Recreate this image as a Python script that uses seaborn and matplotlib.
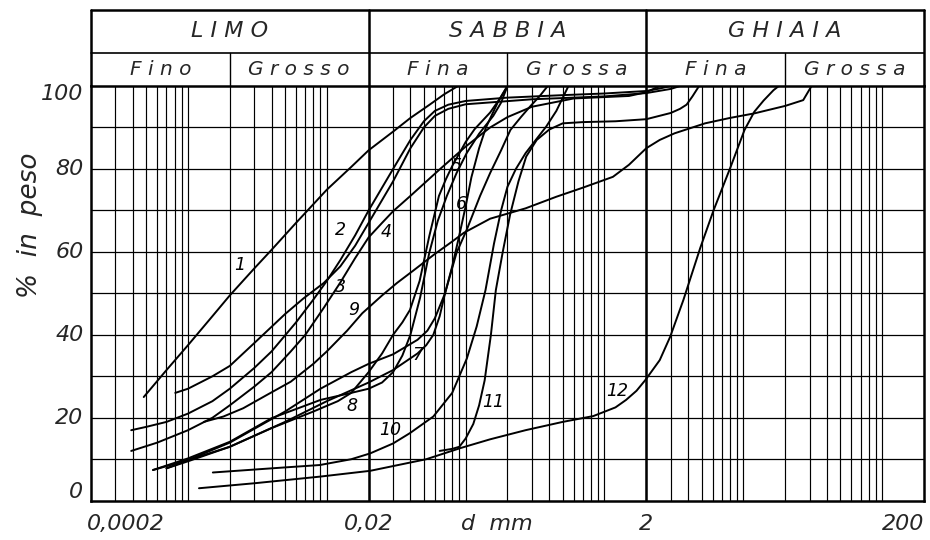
import numpy as np
import pandas as pd
import matplotlib
matplotlib.use("Agg")
import matplotlib.pyplot as plt
import seaborn as sns

# ---- data: grain size (mm) vs % passing for 12 samples ----
c1_d = [0.00048, 0.0007, 0.001, 0.0015, 0.002, 0.003, 0.004, 0.006, 0.008, 0.01, 0.015, 0.02, 0.03, 0.04, 0.055, 0.07, 0.088]
c1_p = [25, 31.5, 37.5, 44.5, 49.5, 56, 60.5, 67, 71.5, 75, 80.5, 84.5, 89, 92.3, 95.5, 98, 100]

c2_d = [0.00039, 0.0005, 0.0007, 0.001, 0.0015, 0.002, 0.003, 0.004, 0.006, 0.008, 0.01, 0.0125, 0.016, 0.02,
        0.025, 0.03, 0.04, 0.05, 0.06, 0.075, 0.1, 0.2, 0.5, 1, 2, 2.5, 3]
c2_p = [17, 17.8, 19, 21, 24, 27, 32, 36, 43, 48.5, 53, 58, 64, 70,
        75.5, 80, 87, 91.5, 94, 95.5, 96.4, 97.2, 97.8, 98.2, 98.8, 99.4, 100]

c3_d = [0.00081, 0.001, 0.0015, 0.002, 0.003, 0.005, 0.0068, 0.0095, 0.0125, 0.016, 0.02, 0.025, 0.03, 0.04,
        0.05, 0.06, 0.075, 0.1, 0.3, 1, 2, 3, 3.5]
c3_p = [26, 27, 30, 32.5, 38, 45, 48.8, 52.5, 56.5, 61.5, 67, 72.5, 77, 85,
        90, 92.8, 94.5, 95.6, 96.8, 97.5, 98.3, 99.3, 100]

c4_d = [0.00039, 0.0006, 0.001, 0.0015, 0.002, 0.003, 0.004, 0.0055, 0.007, 0.0095, 0.0125, 0.016, 0.02, 0.025,
        0.03, 0.04, 0.065, 0.1, 0.15, 0.2, 0.3, 0.6, 1.5, 2, 2.5]
c4_p = [12, 14, 17, 20, 23, 27.5, 31, 36, 40, 46.5, 52.6, 58.5, 63.5, 67,
        69.8, 73.5, 79.9, 85.4, 90, 92.5, 95, 97, 97.6, 98.5, 100]

c5_d = [0.00056, 0.001, 0.002, 0.004, 0.009, 0.015, 0.02, 0.025, 0.03, 0.035, 0.04, 0.047, 0.0547, 0.063,
        0.0732, 0.0862, 0.102, 0.125, 0.158, 0.18, 0.2]
c5_p = [7.4, 10.2, 14.2, 19.9, 24.3, 26, 27, 28.5, 31, 35, 40, 49, 59.8, 67.5,
        73.5, 79.1, 83.9, 88.5, 92.8, 96, 100]

c6_d = [0.0007, 0.001, 0.002, 0.005, 0.01, 0.02, 0.03, 0.045, 0.052, 0.0585, 0.065, 0.071, 0.086, 0.102,
        0.127, 0.15, 0.18, 0.21, 0.25, 0.29, 0.34, 0.39]
c6_p = [7.8, 9.5, 13, 19, 24, 28.5, 31.5, 35.5, 37.5, 40, 44.5, 50, 59.8, 65.4,
        73.5, 79, 84.5, 89.4, 92.5, 95, 97.5, 100]

c7_d = [0.0007, 0.001, 0.002, 0.005, 0.009, 0.015, 0.02, 0.03, 0.045, 0.053, 0.06, 0.071, 0.08, 0.09,
        0.1, 0.11, 0.125, 0.14, 0.17, 0.2]
c7_p = [7.8, 9.8, 14, 21.5, 27, 31, 33, 35.3, 38.8, 41, 44, 50, 56.5, 64,
        71, 78, 85, 90, 96, 100]

c8_d = [0.00056, 0.001, 0.002, 0.004, 0.008, 0.012, 0.015, 0.02, 0.025, 0.03, 0.035, 0.0397, 0.0466, 0.0547,
        0.0642, 0.072, 0.08, 0.1, 0.116, 0.15, 0.175, 0.2]
c8_p = [7.4, 9.8, 13, 17.5, 21.5, 24, 26, 31, 35.5, 40, 43, 46, 53, 63.8,
        73.5, 77.5, 80.7, 86.5, 89.6, 93.6, 96.8, 100]

c9_d = [0.0013, 0.0018, 0.0025, 0.0037, 0.0055, 0.008, 0.01, 0.014, 0.018, 0.025, 0.032, 0.042, 0.06, 0.08,
        0.097, 0.15, 0.27, 0.45, 0.7, 1.15, 1.5, 2.0, 2.5, 3.2, 5.3, 8, 12, 20, 27, 31]
c9_p = [19, 20.3, 22.3, 25.5, 28.7, 33, 36, 41, 45.2, 49.5, 52.5, 55.5, 59.5, 62.5,
        64.6, 68, 70.5, 73.3, 75.5, 78.1, 81, 85, 87, 88.6, 91, 92.3, 93.4, 95.2, 96.6, 100]

c10_d = [0.00151, 0.004, 0.0089, 0.015, 0.0205, 0.03, 0.0397, 0.0585, 0.08, 0.102, 0.12, 0.139, 0.16, 0.18,
         0.2, 0.23, 0.27, 0.32, 0.38, 0.45, 0.55]
c10_p = [6.8, 7.8, 8.6, 10, 11.4, 13.8, 16.3, 20.3, 26, 34.3, 42, 50.8, 62, 70,
         75.7, 80, 83.8, 87, 90.2, 94, 100]

c11_d = [0.065, 0.08, 0.09, 0.1, 0.1135, 0.125, 0.137, 0.152, 0.165, 0.185, 0.209, 0.24, 0.273, 0.325,
         0.4, 0.5, 0.7, 1.2, 2, 3, 3.5, 3.9, 4.3, 4.8]
c11_p = [12, 12.5, 13, 15, 18.5, 23, 29, 40, 50.8, 60, 69, 77, 83, 87,
         89.5, 91, 91.3, 91.5, 92, 93.5, 94.5, 95.5, 97.5, 100]

c12_d = [0.0012, 0.003, 0.0089, 0.0205, 0.052, 0.092, 0.15, 0.27, 0.5, 0.83, 1.2, 1.43, 1.7, 1.97,
         2.5, 2.97, 3.7, 4.9, 6.1, 8.1, 10.2, 12, 14, 16.5, 18]
c12_p = [3, 4.2, 5.8, 7.2, 10, 12.7, 14.8, 17, 19, 20.4, 22.5, 24.3, 26.5, 29.1,
         33.9, 39.5, 48.4, 61, 70, 80.5, 89.4, 93.8, 96.5, 99, 100]

curve_names = ["1", "2", "3", "4", "5", "6", "7", "8", "9", "10", "11", "12"]
curve_d = [c1_d, c2_d, c3_d, c4_d, c5_d, c6_d, c7_d, c8_d, c9_d, c10_d, c11_d, c12_d]
curve_p = [c1_p, c2_p, c3_p, c4_p, c5_p, c6_p, c7_p, c8_p, c9_p, c10_p, c11_p, c12_p]

label_d = [0.00237, 0.01245, 0.01245, 0.0267, 0.0853, 0.0927, 0.0454, 0.0152, 0.0157, 0.0285, 0.157, 1.23]
label_p = [56.8, 65.2, 51.5, 64.7, 80.7, 71.5, 35.1, 22.8, 46, 17, 23.8, 26.5]

y_ticks = [0, 20, 40, 60, 80, 100]
x_tick_vals = [0.0002, 0.02, 2, 200]
x_tick_text = ["0,0002", "0,02", "2", "200"]

groups = ["L I M O", "S A B B I A", "G H I A I A"]
group_edges = [0.0002, 0.02, 2, 200]
subgroups = ["F i n o", "G r o s s o", "F i n a", "G r o s s a", "F i n a", "G r o s s a"]
sub_edges = [0.0002, 0.002, 0.02, 0.2, 2, 20, 200]

# ---- long-form table ----
rows = []
for name, ds, ps in zip(curve_names, curve_d, curve_p):
    for i, (d, p) in enumerate(zip(ds, ps)):
        rows.append({"curve": name, "order": i, "d": d, "p": p})
df = pd.DataFrame(rows)

sns.set_theme(style="white")
plt.rcParams["font.family"] = ["DejaVu Sans"]

fig = plt.figure(figsize=(9.3, 5.4), dpi=100)
fig.patch.set_facecolor("white")
ax = fig.add_axes([0.0978, 0.0728, 0.8957, 0.7679])
ax.set_xscale("log")
ax.set_xlim(0.0002, 200)
ax.set_ylim(0, 100)

# log grid: k * 10^n
for n in range(-4, 3):
    for k in range(1, 10):
        v = k * 10.0 ** n
        if 0.0002 < v < 200:
            ax.axvline(v, color="black", lw=0.85, zorder=1)
for v in range(10, 100, 10):
    ax.axhline(v, color="black", lw=0.9, zorder=1)
for v in [0.02, 2]:
    ax.axvline(v, color="black", lw=1.8, zorder=1)

sns.lineplot(data=df, x="d", y="p", hue="curve", units="curve", estimator=None,
             sort=False, palette=["black"] * 12, linewidth=1.4, legend=False,
             ax=ax, zorder=3)

for s in ax.spines.values():
    s.set_color("black")
    s.set_linewidth(1.8)
ax.tick_params(length=0, labelbottom=False, labelleft=False)
ax.set_xlabel("")
ax.set_ylabel("")
ax.grid(False)

# curve numbers
for name, d, p in zip(curve_names, label_d, label_p):
    ax.text(d, p, name, fontsize=12.5, style="italic", ha="center", va="center",
            color="black", zorder=4)

# tick labels
ytr = ax.get_yaxis_transform()
for v in y_ticks:
    yy = 2 if v == 0 else (98 if v == 100 else v)
    ax.text(-0.009, yy, str(v), transform=ytr, ha="right", va="center",
            fontsize=16, style="italic")
xtr = ax.get_xaxis_transform()
for v, t in zip(x_tick_vals, x_tick_text):
    ha = "left" if v == 0.0002 else ("right" if v == 200 else "center")
    xo = v * 0.93 if v == 0.0002 else v
    ax.text(xo, -0.056, t, transform=xtr, ha=ha, va="center", fontsize=16, style="italic")
ax.text(0.168, -0.056, "d  mm", transform=xtr, ha="center", va="center",
        fontsize=16, style="italic")
ax.text(-0.073, 0.665, "%  in  peso", transform=ax.transAxes, rotation=90,
        ha="center", va="center", fontsize=19, style="italic")

# header box
top, mid = 118.3, 108.0
kw = dict(color="black", clip_on=False, zorder=5)
ax.plot([0.0002, 200], [top, top], lw=1.8, **kw)
ax.plot([0.0002, 200], [mid, mid], lw=1.2, **kw)
ax.plot([0.0002, 0.0002], [100, top], lw=1.8, **kw)
ax.plot([200, 200], [100, top], lw=1.8, **kw)
for v in [0.02, 2]:
    ax.plot([v, v], [100, top], lw=1.8, **kw)
for v in [0.002, 0.2, 20]:
    ax.plot([v, v], [100, mid], lw=1.0, **kw)
for i, g in enumerate(groups):
    c = np.sqrt(group_edges[i] * group_edges[i + 1])
    ax.text(c, (top + mid) / 2, g, ha="center", va="center", fontsize=16, style="italic",
            clip_on=False)
for i, g in enumerate(subgroups):
    c = np.sqrt(sub_edges[i] * sub_edges[i + 1])
    ax.text(c, (mid + 100) / 2, g, ha="center", va="center", fontsize=14.5, style="italic",
            clip_on=False)

fig.savefig("out.png", dpi=100, facecolor="white")
